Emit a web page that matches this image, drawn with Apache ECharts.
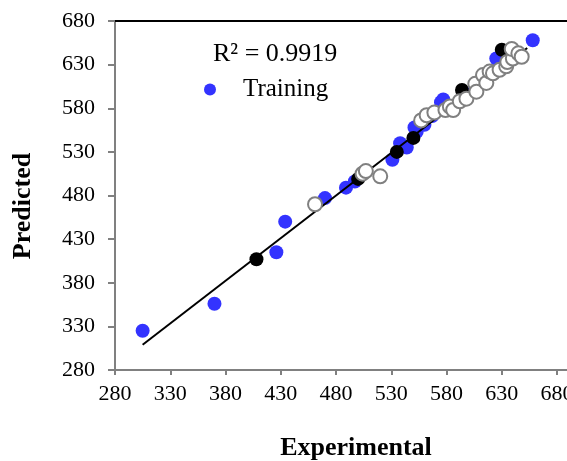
<!DOCTYPE html>
<html>
<head>
<meta charset="utf-8">
<script src="https://cdn.jsdelivr.net/npm/echarts@6/dist/echarts.min.js"></script>
<style>
    html, body { margin: 0; padding: 0; background: #fff; }
    #chart { width: 567px; height: 461px; }
</style>
</head>
<body>
<div id="chart"></div>
<script>
// 训练集 (蓝点)
const trainingPoints = [
    [305, 325], [370, 356], [426, 415], [434, 450], [470, 477], [489, 489],
    [497, 496], [531, 521], [538, 540], [544, 535], [553, 553], [551, 558],
    [560, 561], [567, 571], [575, 587], [577, 590], [596, 598], [606, 603],
    [625, 637], [633, 628], [658, 658]
];
// 黑色实心点
const blackPoints = [
    [408, 407], [500, 499], [535, 530], [550, 546], [594, 601], [630, 647]
];
// 灰色空心点
const openPoints = [
    [461, 470], [504, 505], [507, 508], [520, 502], [557, 566], [562, 572],
    [569, 575], [579, 578], [583, 582], [586, 578], [592, 588], [598, 591],
    [606, 608], [607, 599], [613, 618], [616, 609], [619, 622], [622, 620],
    [628, 624], [634, 628], [635, 633], [640, 637], [639, 648], [645, 643],
    [648, 639]
];
// 趋势线两端
const trendLine = [[305, 309], [653, 649]];
const r2Text = 'R² = 0.9919';
const xTitle = 'Experimental';
const yTitle = 'Predicted';

const serif = '"Liberation Serif", "DejaVu Serif", serif';

const myChart = echarts.init(document.getElementById('chart'));

const option = {
    animation: false,
    grid: { left: 115, right: 0, top: 21, bottom: 91, containLabel: false, outerBoundsMode: 'none' },
    title: {
        text: r2Text,
        left: 213,
        top: 41,
        padding: 0,
        textStyle: { fontFamily: serif, fontSize: 26, fontWeight: 'normal', color: '#000' }
    },
    legend: {
        data: ['Training'],
        left: 204,
        top: 77,
        padding: 0,
        icon: 'circle',
        itemWidth: 12,
        itemHeight: 12,
        textStyle: { fontFamily: serif, fontSize: 25, color: '#000', padding: [0, 0, 0, 22] }
    },
    graphic: [
        {
            type: 'text',
            x: 23,
            y: 206,
            rotation: Math.PI / 2,
            style: {
                text: yTitle,
                font: 'bold 26px ' + serif,
                fill: '#000',
                align: 'center',
                verticalAlign: 'middle'
            }
        },
        {
            type: 'text',
            x: 356,
            y: 448,
            style: {
                text: xTitle,
                font: 'bold 26px ' + serif,
                fill: '#000',
                align: 'center',
                verticalAlign: 'middle'
            }
        }
    ],
    xAxis: [
        {
            type: 'value',
            min: 280,
            max: 689,
            interval: 50,
            splitLine: { show: false },
            axisLine: { lineStyle: { color: '#808080', width: 2 } },
            axisTick: { length: 5, lineStyle: { color: '#808080', width: 2 } },
            axisLabel: { fontFamily: serif, fontSize: 22, color: '#000', margin: 13, showMaxLabel: false }
        },
        {
            type: 'value',
            position: 'top',
            min: 280,
            max: 689,
            splitLine: { show: false },
            axisLine: { show: true, lineStyle: { color: '#000', width: 2 } },
            axisTick: { show: false },
            axisLabel: { show: false }
        }
    ],
    yAxis: {
        type: 'value',
        min: 280,
        max: 680,
        interval: 50,
        splitLine: { show: false },
        axisLine: { lineStyle: { color: '#808080', width: 2 } },
        axisTick: { length: 7, lineStyle: { color: '#808080', width: 2 } },
        axisLabel: { fontFamily: serif, fontSize: 22, color: '#000', margin: 20 }
    },
    series: [
        {
            name: 'Training',
            type: 'scatter',
            symbolSize: 14,
            data: trainingPoints,
            itemStyle: { color: '#3333ff', opacity: 1 },
            z: 2
        },
        {
            name: 'fit',
            type: 'line',
            data: trendLine,
            symbol: 'none',
            lineStyle: { color: '#000', width: 2 },
            z: 3
        },
        {
            name: 'black',
            type: 'scatter',
            symbolSize: 14,
            data: blackPoints,
            itemStyle: { color: '#000', opacity: 1 },
            z: 4
        },
        {
            name: 'open',
            type: 'scatter',
            symbolSize: 14,
            data: openPoints,
            itemStyle: { color: '#fff', borderColor: '#808080', borderWidth: 2, opacity: 1 },
            z: 5
        }
    ]
};

myChart.setOption(option);
</script>
</body>
</html>
